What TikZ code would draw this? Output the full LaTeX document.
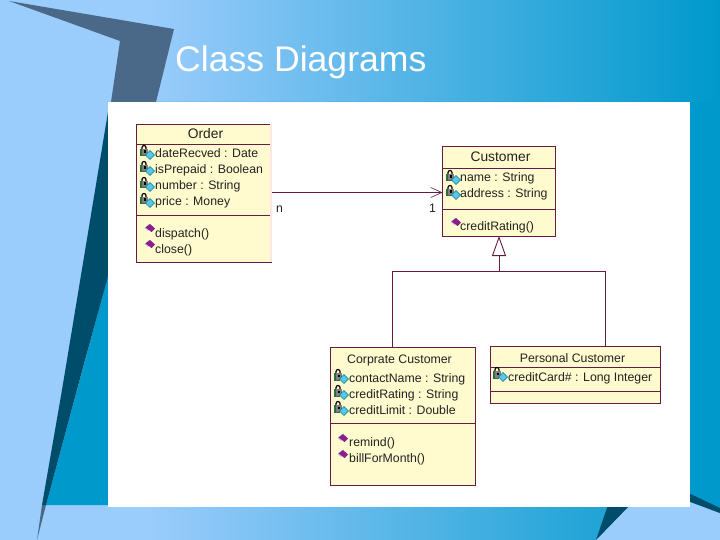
\documentclass[tikz,border=0pt]{standalone}
\usepackage{fontspec}
\setmainfont{Liberation Sans}
\usetikzlibrary{arrows.meta}

\definecolor{slidelight}{HTML}{9ACCFC}
\definecolor{slidemid}{HTML}{5FABE0}
\definecolor{slideteal}{HTML}{0099CC}
\definecolor{slidedark}{HTML}{004C6B}
\definecolor{slideslate}{HTML}{4A6888}
\definecolor{umlline}{HTML}{641C44}
\definecolor{umlfill}{HTML}{FFFBCE}
\definecolor{umltext}{HTML}{222222}
\definecolor{lockgreen}{HTML}{2F6B45}
\definecolor{lockdiamond}{HTML}{5CC4EE}
\definecolor{oppurple}{HTML}{8A1E8C}

\tikzset{
    classbox/.style={draw=umlline, line width=0.9pt, fill=umlfill, inner sep=0pt, outer sep=0pt, anchor=north west},
    umlwire/.style={draw=umlline, line width=0.9pt},
    classtitle/.style={anchor=base, inner sep=0pt, text=umltext, font=\fontsize{12.3}{14}\selectfont},
    bigtitle/.style={classtitle, font=\fontsize{13.8}{16}\selectfont},
    member/.style={anchor=base west, inner sep=0pt, text=umltext, font=\fontsize{12.3}{14}\selectfont},
    attricon/.pic={
        \fill [lockgreen] (-5,-2) rectangle (1,5.5);
        \draw [black, line width=1.2pt] (-3,-2) -- (-3,-3.5) arc (180:360:2) -- (1,-2);
        \fill [gray] (-3.5,-2) rectangle (3,4.5);
        \fill [black] (-1.2,-0.5) rectangle (0.6,2);
        \fill [lockdiamond, draw=teal, line width=0.4pt] (0.5,4) -- (5,-0.5) -- (9.5,4) -- (5,8.5) -- cycle;
    },
    opicon/.pic={
        \fill [gray!45] (-5.5,0) -- (-1,-4) -- (0,0) -- (-2,3) -- cycle;
        \fill [oppurple] (-4.5,-0.5) -- (0,-4) -- (5,0.5) -- (1.5,4) -- cycle;
    }
}

\begin{document}
\begin{tikzpicture}[x=1pt, y=-1pt]
    \useasboundingbox (0,0) rectangle (720,540);

    % slide background
    \fill [slidelight] (0,0) rectangle (720,540);
    \shade [left color=slidelight, middle color=slidemid, right color=slideteal] (150,0) rectangle (720,540);
    \fill [slidelight] (0,0) rectangle (150,102);
    \fill [slidelight] (0,505) rectangle (150,540);
    \fill [slideteal] (46,505) -- (115,250) -- (115,102) -- (720,102) -- (720,508) -- (680,489) -- (680,505) -- cycle;
    \fill [slidelight] (628,507) -- (596,540) -- (720,540) -- (720,513) -- (690,502) -- (680,507) -- cycle;
    \fill [slidedark] (608,505) -- (630,505) -- (596,540) -- cycle;
    \fill [slidedark] (680,489) -- (720,508) -- (720,513) -- (680,498) -- cycle;
    \fill [slidedark] (108,112) -- (62,390) -- (42,505) -- (46,505) -- (85,360) -- (112,262) -- cycle;
    \fill [slideslate] (42,505) -- (46,505) -- (37,540) -- cycle;
    \fill [slideslate] (9,1) -- (174,29) -- (156,102) -- (111,102) -- (120,41) -- cycle;

    \node [anchor=base west, inner sep=0pt, text=white, font=\fontsize{35.6}{40}\selectfont] (slideTitle) at (175,72) {Class Diagrams};

    % white panel
    \fill [white] (108,102) rectangle (690,507);

    % Order
    \node [classbox, minimum width=135pt, minimum height=20pt] (orderName) at (136,124) {};
    \node [classbox, minimum width=135pt, minimum height=71pt] (orderAttrs) at (136,144) {};
    \node [classbox, minimum width=135pt, minimum height=47pt] (orderOps) at (136,215) {};
    \draw [draw=red!10, line width=1.2pt] (orderName.north east) -- (orderOps.south east);
    \draw (205.5,139) node[bigtitle] (orderTitle) {Order};
    \draw (155,158) node[member] (orderDate) {dateRecved : Date};
    \draw (155,174) node[member] (orderPrepaid) {isPrepaid : Boolean};
    \draw (155,190) node[member] (orderNumber) {number : String};
    \draw (155,206) node[member] (orderPrice) {price : Money};
    \draw (155,237) node[member] (orderDispatch) {dispatch()};
    \draw (155,253) node[member] (orderClose) {close()};
    \pic at (145,151) {attricon};
    \pic at (145,167) {attricon};
    \pic at (145,183) {attricon};
    \pic at (145,199) {attricon};
    \pic at (150,228) {opicon};
    \pic at (150,244) {opicon};

    % Customer
    \node [classbox, minimum width=113pt, minimum height=22pt] (custName) at (442.5,146) {};
    \node [classbox, minimum width=113pt, minimum height=41pt] (custAttrs) at (442.5,168) {};
    \node [classbox, minimum width=113pt, minimum height=27pt] (custOps) at (442.5,209) {};
    \draw (500.5,162) node[bigtitle] (custTitle) {Customer};
    \draw (460,182) node[member] (custNameAttr) {name : String};
    \draw (460,197) node[member] (custAddress) {address : String};
    \draw (460,230) node[member] (custRating) {creditRating()};
    \pic at (451,176) {attricon};
    \pic at (451,191) {attricon};
    \pic at (456,222) {opicon};

    % Corprate Customer
    \node [classbox, minimum width=145pt, minimum height=76pt] (corpAttrs) at (330,347) {};
    \node [classbox, minimum width=145pt, minimum height=62pt] (corpOps) at (330,423) {};
    \draw (399.5,363) node[classtitle] (corpTitle) {Corprate Customer};
    \draw (349,382) node[member] (corpContact) {contactName : String};
    \draw (349,398) node[member] (corpRating) {creditRating : String};
    \draw (349,414) node[member] (corpLimit) {creditLimit : Double};
    \draw (349,446) node[member] (corpRemind) {remind()};
    \draw (349,462) node[member] (corpBill) {billForMonth()};
    \pic at (339,375) {attricon};
    \pic at (339,391) {attricon};
    \pic at (339,407) {attricon};
    \pic at (343,438) {opicon};
    \pic at (343,454) {opicon};

    % Personal Customer
    \node [classbox, minimum width=170pt, minimum height=21pt] (persName) at (490.5,346) {};
    \node [classbox, minimum width=170pt, minimum height=24pt] (persAttrs) at (490.5,367) {};
    \node [classbox, minimum width=170pt, minimum height=12pt] (persOps) at (490.5,391) {};
    \draw (572.5,362) node[classtitle] (persTitle) {Personal Customer};
    \draw (508,381) node[member] (persCard) {creditCard\# : Long Integer};
    \pic at (498,373) {attricon};

    % connectors
    \coordinate (orderEnd) at (272,192.5);
    \coordinate (custEnd) at (custAttrs.west |- orderEnd);
    \coordinate (splitPoint) at (custOps.south |- 0,271);
    \coordinate (corpEnd) at (392.5,347);
    \coordinate (persEnd) at (605,346);
    \draw [umlwire, -{Straight Barb[length=11pt, width=10pt, line width=0.6pt]}] (orderEnd) -- (custEnd);
    \draw [umlwire, -{Triangle[open, length=20pt, width=14pt, fill=white]}] (splitPoint) -- (custOps.south);
    \draw [umlwire] (corpEnd) |- (persEnd |- splitPoint) -- (persEnd);
    \draw (276,213) node[member] (orderMult) {n};
    \draw (429,213) node[member] (custMult) {1};
\end{tikzpicture}
\end{document}
